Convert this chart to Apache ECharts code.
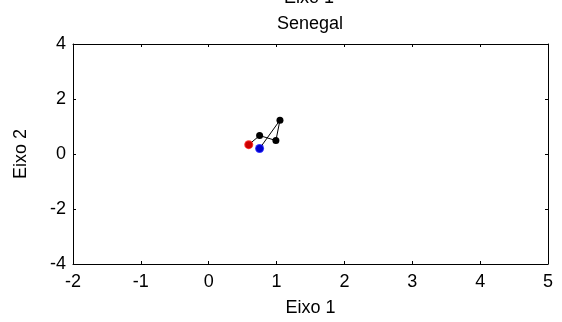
<!DOCTYPE html>
<html><head><meta charset="utf-8">
<script src="https://cdn.jsdelivr.net/npm/echarts@6/dist/echarts.min.js"></script>
<style>html,body{margin:0;padding:0;background:#fff}#c{width:562px;height:322px}</style>
</head><body><div id="c"></div>
<script>
var trajX = [0.59, 0.75, 0.99, 1.05, 0.75];
var trajY = [0.34, 0.67, 0.49, 1.23, 0.20];
var startPt = [0.59, 0.34];
var endPt = [0.75, 0.20];
var xTicks = [-2, -1, 0, 1, 2, 3, 4, 5];
var yTicks = [-4, -2, 0, 2, 4];
var titleMain = 'Senegal';
var titleTop = 'Eixo 1';

var font = 'Liberation Sans, Arial, sans-serif';
var fs = 18;
var chart = echarts.init(document.getElementById('c'));
var line = trajX.map(function(x, i){ return [x, trajY[i]]; });
function axisBase(extra){
  return Object.assign({
    axisLine:{show:true,onZero:false,lineStyle:{color:'#000',width:1}},
    axisTick:{show:true,inside:true,length:3,lineStyle:{color:'#000'}},
    splitLine:{show:false}
  }, extra);
}
chart.setOption({
  animation:false,
  title:[
    {text:titleTop,left:304,textAlign:'center',top:-16,textStyle:{fontFamily:font,fontSize:fs,fontWeight:'normal',color:'#000'}},
    {text:titleMain,left:305,textAlign:'center',top:10,textStyle:{fontFamily:font,fontSize:fs,fontWeight:'normal',color:'#000'}}
  ],
  grid:{left:73,right:14,top:44,bottom:58},
  xAxis:[
    axisBase({type:'value',position:'bottom',min:xTicks[0],max:xTicks[xTicks.length-1],interval:1,
      name:'Eixo 1',nameLocation:'middle',nameGap:35,
      nameTextStyle:{fontFamily:font,fontSize:fs,color:'#000'},
      axisLabel:{fontFamily:font,fontSize:fs,color:'#000',margin:9}}),
    axisBase({type:'value',position:'top',min:xTicks[0],max:xTicks[xTicks.length-1],interval:1,
      axisLabel:{show:false}})
  ],
  yAxis:[
    axisBase({type:'value',position:'left',min:yTicks[0],max:yTicks[yTicks.length-1],interval:2,
      name:'Eixo 2',nameLocation:'middle',nameGap:43,
      nameTextStyle:{fontFamily:font,fontSize:fs,color:'#000'},
      axisLabel:{fontFamily:font,fontSize:fs,color:'#000',margin:7}}),
    axisBase({type:'value',position:'right',min:yTicks[0],max:yTicks[yTicks.length-1],interval:2,
      axisLabel:{show:false}})
  ],
  series:[
    {type:'line',data:line,symbol:'circle',symbolSize:7,
      lineStyle:{color:'#000',width:1},itemStyle:{color:'#000'}},
    {type:'scatter',data:[startPt],symbolSize:9,itemStyle:{color:'#ff0000'},z:5},
    {type:'scatter',data:[endPt],symbolSize:9,itemStyle:{color:'#0000ff'},z:5}
  ]
});
</script></body></html>
